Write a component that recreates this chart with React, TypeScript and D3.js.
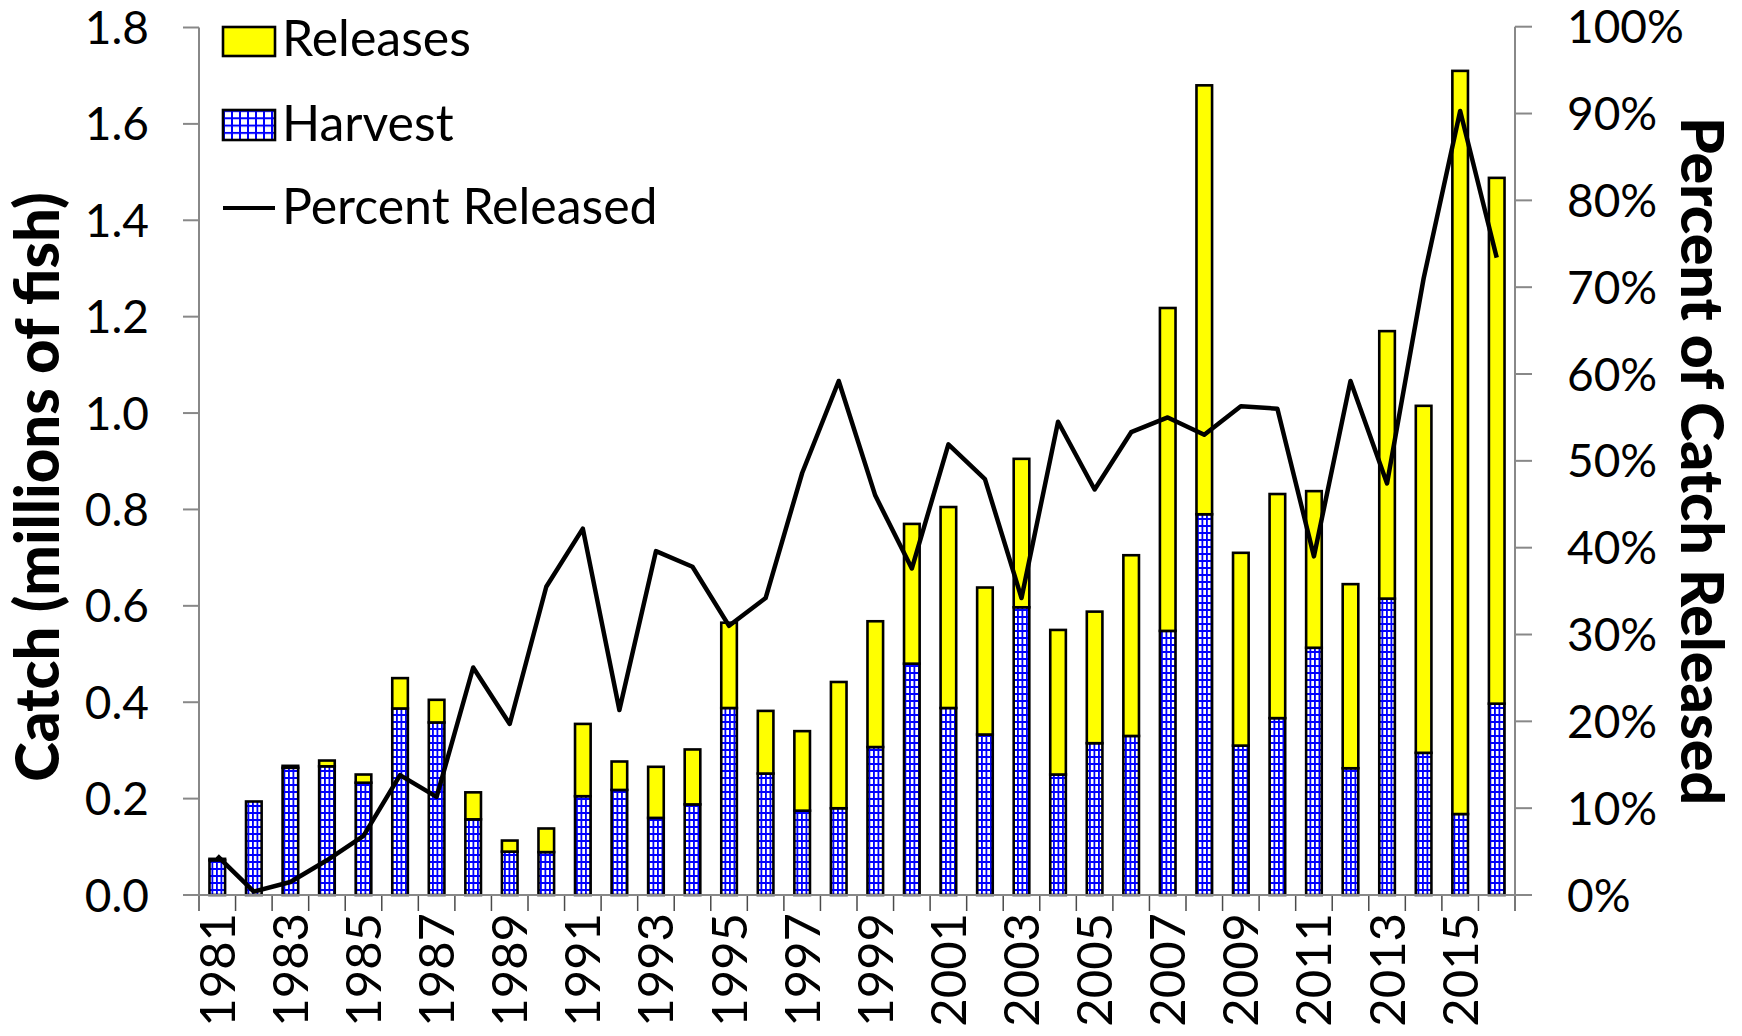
import React, { useEffect, useRef } from 'react';
import * as d3 from 'd3';

const years = [1981, 1982, 1983, 1984, 1985, 1986, 1987, 1988, 1989, 1990, 1991, 1992, 1993, 1994, 1995, 1996, 1997, 1998, 1999, 2000, 2001, 2002, 2003, 2004, 2005, 2006, 2007, 2008, 2009, 2010, 2011, 2012, 2013, 2014, 2015, 2016];
const harvest = [0.072, 0.194, 0.264, 0.267, 0.233, 0.387, 0.358, 0.157, 0.09, 0.089, 0.205, 0.218, 0.16, 0.188, 0.388, 0.252, 0.175, 0.18, 0.307, 0.48, 0.388, 0.333, 0.597, 0.25, 0.315, 0.33, 0.548, 0.79, 0.31, 0.367, 0.513, 0.263, 0.615, 0.295, 0.168, 0.397];
const releases = [0.003, 0.001, 0.004, 0.012, 0.017, 0.063, 0.047, 0.056, 0.023, 0.049, 0.15, 0.059, 0.106, 0.114, 0.177, 0.13, 0.165, 0.262, 0.261, 0.29, 0.417, 0.305, 0.308, 0.3, 0.273, 0.375, 0.67, 0.89, 0.4, 0.465, 0.325, 0.382, 0.555, 0.72, 1.542, 1.091];
const percentReleased = [4.5, 0.4, 1.5, 4.0, 6.8, 13.8, 11.3, 26.2, 19.7, 35.5, 42.2, 21.3, 39.6, 37.8, 31.0, 34.2, 48.6, 59.2, 46.0, 37.6, 51.9, 47.9, 34.2, 54.5, 46.7, 53.3, 55.0, 53.0, 56.3, 56.0, 39.0, 59.2, 47.4, 71.0, 90.3, 73.4];
const leftTicks = [0, 0.2, 0.4, 0.6, 0.8, 1.0, 1.2, 1.4, 1.6, 1.8];
const rightTicks = [0, 10, 20, 30, 40, 50, 60, 70, 80, 90, 100];
const legendLabels = ['Releases', 'Harvest', 'Percent Released'];
const leftTitle = 'Catch (millions of fish)';
const rightTitle = 'Percent of Catch Released';

const FONT = 'Lato, "Open Sans", sans-serif';

export default function App() {
  const ref = useRef<SVGSVGElement>(null);

  useEffect(() => {
    const svg = d3.select(ref.current);
    svg.selectAll('*').remove();

    const L = 199, R = 1515, T = 27.5, B = 895;

    const x = d3.scaleBand<number>().domain(years).range([L, R]).paddingInner(0.573).paddingOuter(0.2865);
    const y = d3.scaleLinear().domain([0, 1.8]).range([B, T]);
    const yR = d3.scaleLinear().domain([0, 100]).range([B, 26.7]);
    const step = x.step();

    const defs = svg.append('defs');
    const pat = defs.append('pattern').attr('id', 'gridBar').attr('patternUnits', 'userSpaceOnUse')
      .attr('width', 4.5).attr('height', 7);
    pat.append('rect').attr('width', 4.5).attr('height', 7).attr('fill', '#fff');
    pat.append('rect').attr('x', 0).attr('y', 0).attr('width', 1.8).attr('height', 7).attr('fill', '#0000ff');
    pat.append('rect').attr('x', 0).attr('y', 0).attr('width', 4.5).attr('height', 2).attr('fill', '#0000ff');

    const pat2 = defs.append('pattern').attr('id', 'gridLegend').attr('patternUnits', 'userSpaceOnUse')
      .attr('width', 8).attr('height', 7.3).attr('x', 223).attr('y', 110);
    pat2.append('rect').attr('width', 8).attr('height', 7.3).attr('fill', '#fff');
    pat2.append('rect').attr('x', 0).attr('y', 0).attr('width', 2).attr('height', 7.3).attr('fill', '#0000ff');
    pat2.append('rect').attr('x', 0).attr('y', 0).attr('width', 8).attr('height', 2).attr('fill', '#0000ff');

    // x ticks at band boundaries
    const boundaries = d3.range(years.length + 1).map(i => L + i * step);
    svg.append('g').selectAll('line').data(boundaries).join('line')
      .attr('x1', d => d).attr('x2', d => d).attr('y1', B).attr('y2', B + 16)
      .attr('stroke', '#4a4a4a').attr('stroke-width', 1.5);

    // bars
    const data = years.map((yr, i) => ({ yr, h: harvest[i], r: releases[i], p: percentReleased[i] }));
    const g = svg.append('g');
    g.selectAll('rect.h').data(data).join('rect').attr('class', 'h')
      .attr('x', d => x(d.yr)!).attr('width', x.bandwidth())
      .attr('y', d => y(d.h)).attr('height', d => B - y(d.h))
      .attr('fill', 'url(#gridBar)').attr('stroke', '#000').attr('stroke-width', 2.6);
    g.selectAll('rect.r').data(data.filter(d => d.r > 0.002)).join('rect').attr('class', 'r')
      .attr('x', d => x(d.yr)!).attr('width', x.bandwidth())
      .attr('y', d => y(d.h + d.r)).attr('height', d => y(d.h) - y(d.h + d.r))
      .attr('fill', '#ffff00').attr('stroke', '#000').attr('stroke-width', 2.6);

    // axes lines
    const axisColor = '#888';
    svg.append('line').attr('x1', L - 16).attr('x2', R + 17).attr('y1', B).attr('y2', B)
      .attr('stroke', axisColor).attr('stroke-width', 2);
    svg.append('line').attr('x1', L).attr('x2', L).attr('y1', T).attr('y2', B)
      .attr('stroke', axisColor).attr('stroke-width', 2);
    svg.append('line').attr('x1', R).attr('x2', R).attr('y1', 26.7).attr('y2', B)
      .attr('stroke', axisColor).attr('stroke-width', 2);

    // left ticks
    const lt = svg.append('g');
    lt.selectAll('line').data(leftTicks).join('line')
      .attr('x1', L - 16).attr('x2', L).attr('y1', d => y(d)).attr('y2', d => y(d))
      .attr('stroke', axisColor).attr('stroke-width', 2);
    lt.selectAll('text').data(leftTicks).join('text')
      .attr('x', 149).attr('y', d => y(d) + 16.5).attr('text-anchor', 'end')
      .attr('font-family', FONT).attr('font-size', 46).attr('fill', '#000')
      .text(d => d3.format('.1f')(d));

    // right ticks
    const rt = svg.append('g');
    rt.selectAll('line').data(rightTicks).join('line')
      .attr('x1', R).attr('x2', R + 17).attr('y1', d => yR(d)).attr('y2', d => yR(d))
      .attr('stroke', axisColor).attr('stroke-width', 2);
    rt.selectAll('text').data(rightTicks).join('text')
      .attr('x', 1567).attr('y', d => yR(d) + 16.5).attr('text-anchor', 'start')
      .attr('font-family', FONT).attr('font-size', 46).attr('fill', '#000')
      .text(d => d + '%');

    // x labels
    svg.append('g').selectAll('text').data(years.filter((_, i) => i % 2 === 0)).join('text')
      .attr('transform', d => `translate(${x(d)! + x.bandwidth() / 2 + 17.5},913) rotate(-90)`)
      .attr('text-anchor', 'end')
      .attr('font-family', FONT).attr('font-size', 49).attr('fill', '#000')
      .text(d => String(d));

    // line
    const line = d3.line<typeof data[0]>()
      .x(d => x(d.yr)! + x.bandwidth() / 2)
      .y(d => yR(d.p));
    svg.append('path').datum(data).attr('d', line)
      .attr('fill', 'none').attr('stroke', '#000').attr('stroke-width', 4.5)
      .attr('stroke-linejoin', 'round');

    // titles
    svg.append('text')
      .attr('transform', `translate(59,487) rotate(-90)`)
      .attr('text-anchor', 'middle').attr('font-family', FONT).attr('font-weight', 900)
      .attr('font-size', 60).attr('fill', '#000').text(leftTitle);
    svg.append('text')
      .attr('transform', `translate(1681,461) rotate(90)`)
      .attr('text-anchor', 'middle').attr('font-family', FONT).attr('font-weight', 900)
      .attr('font-size', 59).attr('fill', '#000').text(rightTitle);

    // legend
    const lg = svg.append('g');
    lg.append('rect').attr('x', 223).attr('y', 27).attr('width', 52).attr('height', 29)
      .attr('fill', '#ffff00').attr('stroke', '#000').attr('stroke-width', 2.6);
    lg.append('rect').attr('x', 223).attr('y', 110).attr('width', 52).attr('height', 30)
      .attr('fill', 'url(#gridLegend)').attr('stroke', '#000').attr('stroke-width', 2.6);
    lg.append('line').attr('x1', 223).attr('x2', 275).attr('y1', 208).attr('y2', 208)
      .attr('stroke', '#000').attr('stroke-width', 4);
    const baselines = [56, 141, 224];
    lg.selectAll('text').data(legendLabels).join('text')
      .attr('x', 282).attr('y', (_, i) => baselines[i])
      .attr('font-family', FONT).attr('font-size', 50).attr('fill', '#000')
      .text(d => d);
  }, []);

  return (
    <svg ref={ref} width={1742} height={1036}
      style={{ position: 'absolute', left: 0, top: 0, background: '#fff' }} />
  );
}
